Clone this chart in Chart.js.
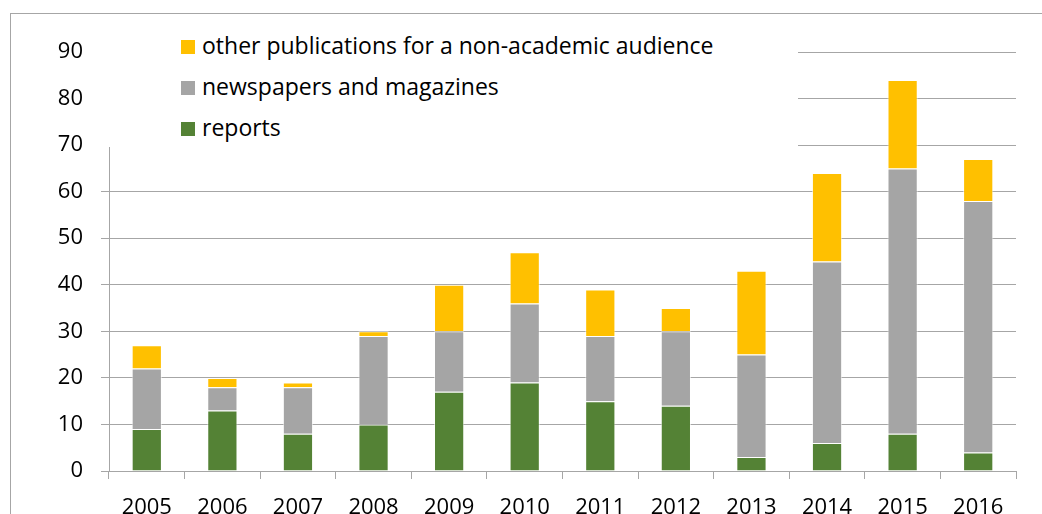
<!DOCTYPE html>
<html>
<head>
<meta charset="utf-8">
<script src="https://cdn.jsdelivr.net/npm/chart.js@4.4.1/dist/chart.umd.min.js"></script>
<style>
  html, body { margin:0; padding:0; background:#fff; overflow:hidden; }
  #wrap { position:relative; width:1042px; height:514px; }
  #frame { position:absolute; left:10px; top:13px; width:2000px; height:2000px;
           border-left:1px solid #a6a6a6; border-top:1px solid #a6a6a6; }
  #chartBox { position:absolute; left:0; top:0; width:1042px; height:514px; }
  #legend { position:absolute; left:101px; top:15px; width:697px; height:132px;
            background:#fff; font-family:'Open Sans', sans-serif; font-size:23px; color:#000; }
  .lg-row { position:absolute; left:80px; height:30px; line-height:30px; white-space:nowrap; }
  .lg-box { display:inline-block; width:14px; height:14px; margin-right:7px; vertical-align:0px; }
</style>
</head>
<body>
<div id="wrap">
  <div id="frame"></div>
  <div id="chartBox"><canvas id="pubChart"></canvas></div>
  <div id="legend"></div>
</div>
<script>
// ─── Data ────────────────────────────────────────────
const YEARS    = ['2005','2006','2007','2008','2009','2010','2011','2012','2013','2014','2015','2016'];
const REPORTS  = [9, 13, 8, 10, 17, 19, 15, 14, 3, 6, 8, 4];
const NEWS     = [13, 5, 10, 19, 13, 17, 14, 16, 22, 39, 57, 54];
const OTHER    = [5, 2, 1, 1, 10, 11, 10, 5, 18, 19, 19, 9];
const Y_TICKS  = [0, 10, 20, 30, 40, 50, 60, 70, 80, 90];

const SERIES = [
  { label: 'reports',                                        data: REPORTS, color: '#548235' },
  { label: 'newspapers and magazines',                       data: NEWS,    color: '#a5a5a5' },
  { label: 'other publications for a non-academic audience', data: OTHER,   color: '#ffc000' },
];

const AXIS_GREY = '#a6a6a6';
const FONT = { family: "'Open Sans', sans-serif", size: 22 };

const datasets = SERIES.map(s => ({
  label: s.label,
  data: s.data,
  backgroundColor: s.color,
  borderColor: 'rgba(255,255,255,0.6)',
  borderWidth: 1,
  barPercentage: 0.4,
  categoryPercentage: 1,
}));

new Chart(document.getElementById('pubChart'), {
  type: 'bar',
  data: { labels: YEARS, datasets },
  options: {
    responsive: true, maintainAspectRatio: false, animation: false,
    layout: { padding: { left: 0, right: 26, top: 52, bottom: 0 } },
    plugins: { legend: { display: false }, tooltip: { enabled: false } },
    scales: {
      x: {
        stacked: true, offset: true,
        grid: { offset: true, drawOnChartArea: false, drawTicks: true, tickLength: 8, color: AXIS_GREY },
        border: { color: AXIS_GREY },
        ticks: { color: '#000', font: FONT, padding: 16, maxRotation: 0 },
        afterFit: s => { s.height = 43; },
      },
      y: {
        stacked: true, min: Y_TICKS[0], max: Y_TICKS[Y_TICKS.length - 1],
        afterBuildTicks: s => { s.ticks = Y_TICKS.map(v => ({ value: v })); },
        grid: { color: AXIS_GREY, tickLength: 8 },
        border: { color: AXIS_GREY },
        ticks: { color: '#000', font: FONT, padding: 18 },
        afterFit: s => { s.width = 109; },
      },
    },
  },
});

// legend sits on a white card over the top-left of the plot, reversed order
document.getElementById('legend').innerHTML = [...SERIES].reverse().map((s, i) => `
  <div class="lg-row" style="top:${15 + i * 41}px">
    <span class="lg-box" style="background:${s.color}"></span>${s.label}
  </div>`).join('');
</script>
</body>
</html>
